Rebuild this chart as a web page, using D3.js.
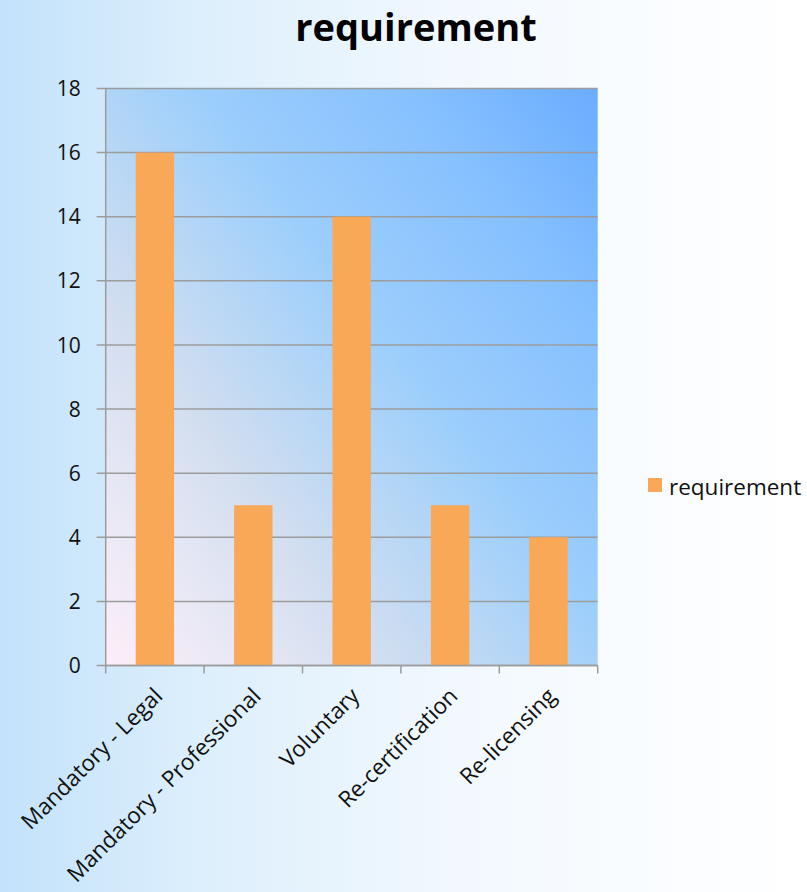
<!DOCTYPE html>
<html>
<head>
<meta charset="utf-8">
<script src="https://cdn.jsdelivr.net/npm/d3@7"></script>
<style>
  body { margin: 0; padding: 0; }
  svg { display: block; }
</style>
</head>
<body>
<div id="chart"></div>
<script>
const categories = ["Mandatory - Legal", "Mandatory - Professional", "Voluntary", "Re-certification", "Re-licensing"];
const values = [16, 5, 14, 5, 4];
const yTicks = [0, 2, 4, 6, 8, 10, 12, 14, 16, 18];
const seriesName = "requirement";

const W = 807, H = 892;
const plot = {left: 105.7, right: 597.7, top: 88.5, bottom: 665.5};

const svg = d3.select("#chart")
    .append("svg")
    .attr("width", W)
    .attr("height", H);

const defs = svg.append("defs");

// page background
const bg = defs.append("linearGradient")
    .attr("id", "pagebg")
    .attr("x1", "0").attr("y1", "0")
    .attr("x2", "1").attr("y2", "0");
bg.append("stop").attr("offset", "0").attr("stop-color", "#c3e2fb");
bg.append("stop").attr("offset", "0.25").attr("stop-color", "#ddeffc");
bg.append("stop").attr("offset", "0.55").attr("stop-color", "#f1f8fe");
bg.append("stop").attr("offset", "0.85").attr("stop-color", "#fbfdff");
bg.append("stop").attr("offset", "1").attr("stop-color", "#ffffff");

// plot area fill, pink bottom-left to blue top-right
const pg = defs.append("linearGradient")
    .attr("id", "plotbg")
    .attr("gradientUnits", "userSpaceOnUse")
    .attr("x1", plot.left).attr("y1", plot.bottom)
    .attr("x2", 694).attr("y2", 216);
pg.append("stop").attr("offset", "0").attr("stop-color", "#fdeef8");
pg.append("stop").attr("offset", "0.15").attr("stop-color", "#e8e8f5");
pg.append("stop").attr("offset", "0.3").attr("stop-color", "#d2def0");
pg.append("stop").attr("offset", "0.45").attr("stop-color", "#b4d6f6");
pg.append("stop").attr("offset", "0.57").attr("stop-color", "#9ccefc");
pg.append("stop").attr("offset", "0.8").attr("stop-color", "#86c0ff");
pg.append("stop").attr("offset", "1").attr("stop-color", "#6aacff");

svg.append("rect")
    .attr("width", W)
    .attr("height", H)
    .attr("fill", "url(#pagebg)");

const x = d3.scaleBand()
    .domain(categories)
    .range([plot.left, plot.right])
    .paddingInner(0.61)
    .paddingOuter(0.305);

// no-padding band scale for the tick marks between categories
const xCat = d3.scaleBand()
    .domain(categories)
    .range([plot.left, plot.right]);

const y = d3.scaleLinear()
    .domain([0, 18])
    .range([plot.bottom, plot.top]);

svg.append("rect")
    .attr("x", plot.left)
    .attr("y", plot.top)
    .attr("width", plot.right - plot.left)
    .attr("height", plot.bottom - plot.top)
    .attr("fill", "url(#plotbg)");

// gridlines
svg.append("g")
    .selectAll("line")
    .data(yTicks)
    .join("line")
    .attr("x1", plot.left - 9)
    .attr("x2", plot.right)
    .attr("y1", d => y(d))
    .attr("y2", d => y(d))
    .attr("stroke", "#9c9c9c")
    .attr("stroke-width", 1.5);

// bars
svg.append("g")
    .selectAll("rect")
    .data(values)
    .join("rect")
    .attr("x", (d, i) => x(categories[i]))
    .attr("y", d => y(d))
    .attr("width", x.bandwidth())
    .attr("height", d => y(0) - y(d))
    .attr("fill", "#f9a857");

// y axis line
svg.append("line")
    .attr("x1", plot.left).attr("x2", plot.left)
    .attr("y1", plot.top).attr("y2", plot.bottom)
    .attr("stroke", "#9c9c9c")
    .attr("stroke-width", 1.5);

// x axis line + tick marks
svg.append("line")
    .attr("x1", plot.left).attr("x2", plot.right)
    .attr("y1", plot.bottom).attr("y2", plot.bottom)
    .attr("stroke", "#9c9c9c")
    .attr("stroke-width", 1.5);

const tickXs = categories.map(c => xCat(c)).concat([plot.right]);
svg.append("g")
    .selectAll("line")
    .data(tickXs)
    .join("line")
    .attr("x1", d => d).attr("x2", d => d)
    .attr("y1", plot.bottom).attr("y2", plot.bottom + 8)
    .attr("stroke", "#9c9c9c")
    .attr("stroke-width", 1.5);

// y tick labels
svg.append("g")
    .selectAll("text")
    .data(yTicks)
    .join("text")
    .attr("x", plot.left - 25)
    .attr("y", d => y(d))
    .attr("dy", "0.36em")
    .attr("text-anchor", "end")
    .attr("font-family", "Open Sans")
    .attr("font-size", 21)
    .attr("fill", "#111")
    .text(d => d);

// x labels, rotated
svg.append("g")
    .selectAll("text")
    .data(categories)
    .join("text")
    .attr("text-anchor", "end")
    .attr("transform", d => `translate(${xCat(d) + xCat.bandwidth() / 2 + 9},${plot.bottom + 32}) rotate(-45)`)
    .attr("font-family", "Open Sans")
    .attr("font-size", 22.5)
    .attr("fill", "#111")
    .text(d => d);

// title
svg.append("text")
    .attr("x", 416)
    .attr("y", 41)
    .attr("text-anchor", "middle")
    .attr("font-family", "Open Sans")
    .attr("font-weight", "bold")
    .attr("font-size", 38)
    .attr("fill", "#000")
    .text(seriesName);

// legend
svg.append("rect")
    .attr("x", 648)
    .attr("y", 478)
    .attr("width", 14)
    .attr("height", 14)
    .attr("fill", "#f9a857");

svg.append("text")
    .attr("x", 669)
    .attr("y", 495)
    .attr("font-family", "Open Sans")
    .attr("font-size", 22.5)
    .attr("fill", "#111")
    .text(seriesName);
</script>
</body>
</html>
